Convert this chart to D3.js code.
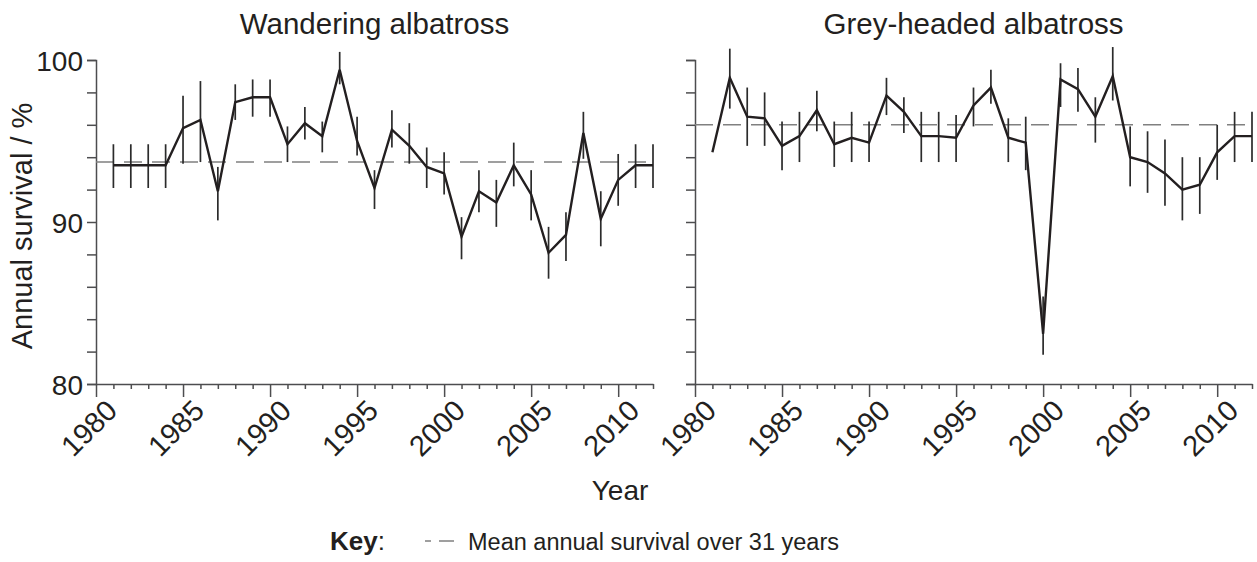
<html>

<head>
  <script src="https://d3js.org/d3.v7.min.js"></script>
  <style>
    body { margin: 0; background: #fff; }
    text { font-family: "Liberation Sans", Arial, sans-serif; fill: #231f20; }
  </style>
</head>

<body>
  <div id="chart"></div>

  <script>
    // data
    var years = d3.range(1981, 2013);
    var wanderingMean = [93.5, 93.5, 93.5, 93.5, 95.8, 96.3, 91.9, 97.4, 97.7, 97.7, 94.8, 96.1, 95.3, 99.4, 95.0, 92.1,
      95.7, 94.7, 93.4, 93.0, 89.1, 91.9, 91.2, 93.5, 91.7, 88.1, 89.2, 95.5, 90.2, 92.6, 93.5, 93.5];
    var wanderingLo = [92.1, 92.1, 92.1, 92.1, 93.6, 93.7, 90.1, 96.3, 96.5, 96.5, 93.7, 95.1, 94.3, 98.5, 94.1, 90.8,
      94.6, 93.6, 92.1, 91.7, 87.7, 90.6, 89.7, 92.2, 90.1, 86.5, 87.6, 93.9, 88.5, 91.0, 92.1, 92.1];
    var wanderingHi = [94.8, 94.8, 94.8, 94.8, 97.8, 98.7, 93.4, 98.5, 98.8, 98.8, 95.9, 97.1, 96.2, 100.5, 96.5, 93.2,
      96.9, 96.1, 94.6, 94.3, 90.3, 93.2, 92.6, 94.9, 93.2, 89.7, 90.6, 96.8, 91.9, 94.2, 94.8, 94.8];
    var greyMean = [94.3, 98.9, 96.5, 96.4, 94.7, 95.3, 96.9, 94.8, 95.2, 94.9, 97.8, 96.8, 95.3, 95.3, 95.2, 97.2,
      98.3, 95.2, 94.9, 83.1, 98.8, 98.2, 96.5, 99.0, 94.0, 93.7, 93.0, 92.0, 92.3, 94.3, 95.3, 95.3];
    var greyLo = [null, 97.0, 94.7, 94.7, 93.2, 93.7, 95.6, 93.4, 93.7, 93.7, 96.6, 95.5, 93.7, 93.7, 93.7, 95.9,
      97.3, 93.7, 93.2, 81.8, 97.1, 96.8, 94.9, 97.5, 92.2, 91.8, 91.0, 90.1, 90.5, 92.6, 93.7, 93.7];
    var greyHi = [null, 100.7, 98.3, 98.0, 96.2, 96.8, 98.1, 96.2, 96.8, 96.2, 98.9, 97.7, 96.8, 96.8, 96.6, 98.3,
      99.4, 96.4, 96.5, 85.4, 99.8, 99.5, 97.7, 100.8, 95.9, 95.6, 95.1, 94.0, 94.0, 96.0, 96.8, 96.8];
    var meanSurvival = [93.7, 96.0];
    var titles = ["Wandering albatross", "Grey-headed albatross"];
    var yLabels = [80, 90, 100];
    var xLabels = [1980, 1985, 1990, 1995, 2000, 2005, 2010];

    const width = 1257;
    const height = 562;
    var axisColor = "#4d4d4f";

    var svg = d3.create("svg")
      .attr("width", width)
      .attr("height", height);

    var y = d3.scaleLinear()
      .domain([80, 100])
      .range([384, 60]);

    var panels = [
      { title: titles[0], left: 96, mean: wanderingMean, lo: wanderingLo, hi: wanderingHi, avg: meanSurvival[0], labels: true },
      { title: titles[1], left: 695, mean: greyMean, lo: greyLo, hi: greyHi, avg: meanSurvival[1], labels: false }
    ];

    panels.forEach(p => {
      var x = d3.scaleLinear()
        .domain([1980, 2012])
        .range([p.left, p.left + 557]);

      var g = svg.append("g");

      g.append("text")
        .attr("x", (x(1980) + x(2012)) / 2)
        .attr("y", 34)
        .attr("text-anchor", "middle")
        .attr("font-size", 29.5)
        .text(p.title);

      // y axis
      var yAxis = g.append("g")
        .attr("transform", `translate(${x(1980)},0)`)
        .call(d3.axisLeft(y)
          .tickValues(d3.range(80, 101, 2))
          .tickSize(9)
          .tickFormat(d => (p.labels && yLabels.includes(d)) ? d : ""));
      yAxis.select(".domain").attr("stroke", axisColor).attr("stroke-width", 1.5);
      yAxis.selectAll(".tick line").attr("stroke", axisColor).attr("stroke-width", 1.5);
      yAxis.selectAll(".tick text")
        .attr("font-family", "Liberation Sans, Arial, sans-serif")
        .attr("font-size", 28)
        .attr("fill", "#231f20")
        .attr("dx", -1)
        .attr("dy", "0.36em");

      // x axis
      var xAxis = g.append("g")
        .attr("transform", `translate(0,${y(80)})`)
        .call(d3.axisBottom(x)
          .tickValues(d3.range(1980, 2013))
          .tickSizeOuter(0)
          .tickFormat(d => xLabels.includes(d) ? d : ""));
      xAxis.select(".domain").attr("stroke", axisColor).attr("stroke-width", 1.5);
      xAxis.selectAll(".tick line")
        .attr("stroke", axisColor)
        .attr("stroke-width", 1.5)
        .attr("y2", d => d % 5 === 0 ? 13 : 5);
      xAxis.selectAll(".tick text")
        .attr("font-family", "Liberation Sans, Arial, sans-serif")
        .attr("font-size", 29)
        .attr("fill", "#231f20")
        .attr("text-anchor", "end")
        .attr("transform", "translate(8,14) rotate(-45)")
        .attr("y", 0)
        .attr("dy", "0.7em");

      // mean over the period
      g.append("line")
        .attr("x1", x(1980))
        .attr("x2", x(2012))
        .attr("y1", y(p.avg))
        .attr("y2", y(p.avg))
        .attr("stroke", "#808080")
        .attr("stroke-width", 1.4)
        .attr("stroke-dasharray", "18,10");

      // error bars
      g.append("g")
        .attr("stroke", "#2b2b2b")
        .attr("stroke-width", 1.7)
        .selectAll("line")
        .data(years.map((yr, i) => ({ yr: yr, lo: p.lo[i], hi: p.hi[i] })).filter(d => d.lo !== null))
        .join("line")
          .attr("x1", d => x(d.yr))
          .attr("x2", d => x(d.yr))
          .attr("y1", d => y(d.lo))
          .attr("y2", d => y(d.hi));

      var line = d3.line()
        .x((d, i) => x(years[i]))
        .y(d => y(d));

      g.append("path")
        .datum(p.mean)
        .attr("fill", "none")
        .attr("stroke", "#231f20")
        .attr("stroke-width", 2.4)
        .attr("stroke-linejoin", "miter")
        .attr("d", line);
    });

    svg.append("text")
      .attr("transform", "translate(32,226) rotate(-90)")
      .attr("text-anchor", "middle")
      .attr("font-size", 29)
      .text("Annual survival / %");

    svg.append("text")
      .attr("x", 620)
      .attr("y", 500)
      .attr("text-anchor", "middle")
      .attr("font-size", 28)
      .text("Year");

    // key
    var key = svg.append("text")
      .attr("x", 330)
      .attr("y", 550)
      .attr("font-size", 26);
    key.append("tspan").attr("font-weight", "bold").text("Key");
    key.append("tspan").text(":");

    svg.append("line")
      .attr("x1", 425)
      .attr("x2", 456)
      .attr("y1", 541)
      .attr("y2", 541)
      .attr("stroke", "#808080")
      .attr("stroke-width", 1.4)
      .attr("stroke-dasharray", "15,8")
      .attr("stroke-dashoffset", 9);

    svg.append("text")
      .attr("x", 468)
      .attr("y", 550)
      .attr("font-size", 23.5)
      .text("Mean annual survival over 31 years");

    document.getElementById("chart").appendChild(svg.node());
  </script>
</body>
</html>
